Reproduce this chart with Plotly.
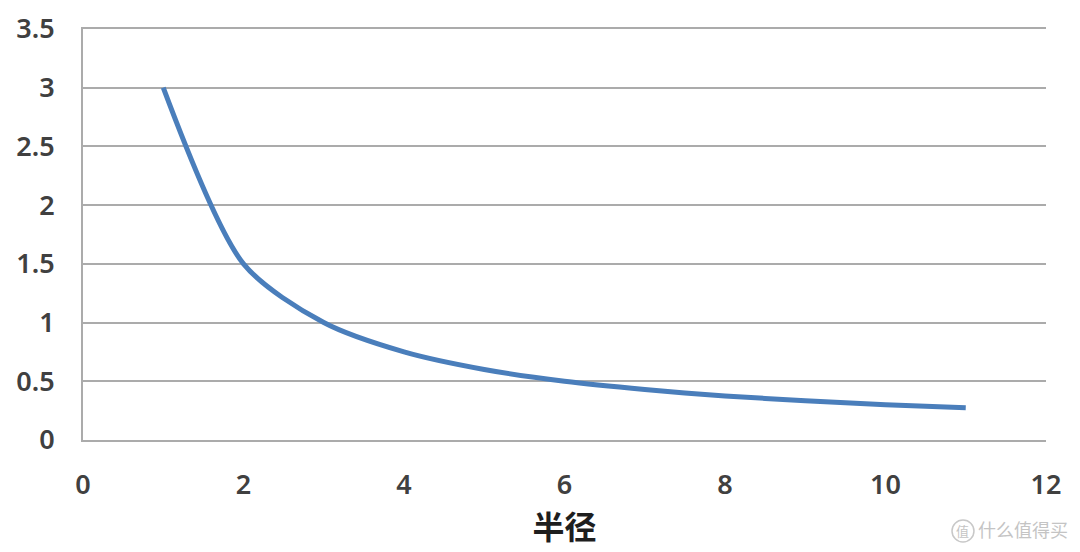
import plotly.graph_objects as go

# radius vs value
radius = [1, 2, 3, 4, 5, 6, 7, 8, 9, 10, 11]
value = [3.0, 1.5, 1.0, 0.75, 0.6, 0.5, 0.43, 0.375, 0.335, 0.3, 0.275]

x_ticks = [0, 2, 4, 6, 8, 10, 12]
y_ticks = [0, 0.5, 1, 1.5, 2, 2.5, 3, 3.5]
y_labels = ['0', '0.5', '1', '1.5', '2', '2.5', '3', '3.5']

tick_font = dict(size=27, color='#404040', weight=600)

fig = go.Figure()
fig.add_trace(go.Scatter(x=radius, y=value, mode='lines',
                         line=dict(color='#4a7ebb', width=5, shape='spline', smoothing=0.8),
                         showlegend=False))

# x line mirrored so the 0 and 3.5 grid lines show at the plot edges
fig.update_xaxes(range=[0, 12], tickvals=x_ticks, showgrid=False, zeroline=False,
                 showline=True, mirror=True, linecolor='#ababab', linewidth=2,
                 ticks='', ticklabelstandoff=20, automargin=False,
                 tickfont=tick_font,
                 title=dict(text='<b>半径</b>', font=dict(size=32, color='#1e1e1e',
                            family='Noto Sans CJK SC'), standoff=8))
fig.update_yaxes(range=[0, 3.5], tickvals=y_ticks, ticktext=y_labels,
                 showgrid=True, gridcolor='#ababab', gridwidth=2, zeroline=False,
                 showline=True, linecolor='#ababab', linewidth=2, ticks='',
                 automargin=False, ticklabelstandoff=21,
                 tickfont=tick_font)

# watermark, bottom right
fig.add_annotation(text='什么值得买', xref='paper', yref='paper', x=1.025, y=-0.2165,
                   xanchor='right', yanchor='middle', showarrow=False,
                   font=dict(size=18, color='#c4c4c4', family='Noto Sans CJK SC'))
fig.add_annotation(text='值', xref='paper', yref='paper', x=0.9138, y=-0.2214,
                   xanchor='center', yanchor='middle', showarrow=False,
                   font=dict(size=13, color='#c4c4c4', family='Noto Sans CJK SC'))
fig.add_shape(type='circle', xref='paper', yref='paper',
              x0=0.9024, x1=0.9252, y0=-0.2482, y1=-0.1946,
              line=dict(color='#c8c8c8', width=1.5))

fig.update_layout(width=1072, height=544, margin=dict(l=75, r=34, t=21, b=112),
                  plot_bgcolor='white', paper_bgcolor='white',
                  font=dict(family='Noto Sans, Liberation Sans, sans-serif'))

fig.write_html("out.html")
